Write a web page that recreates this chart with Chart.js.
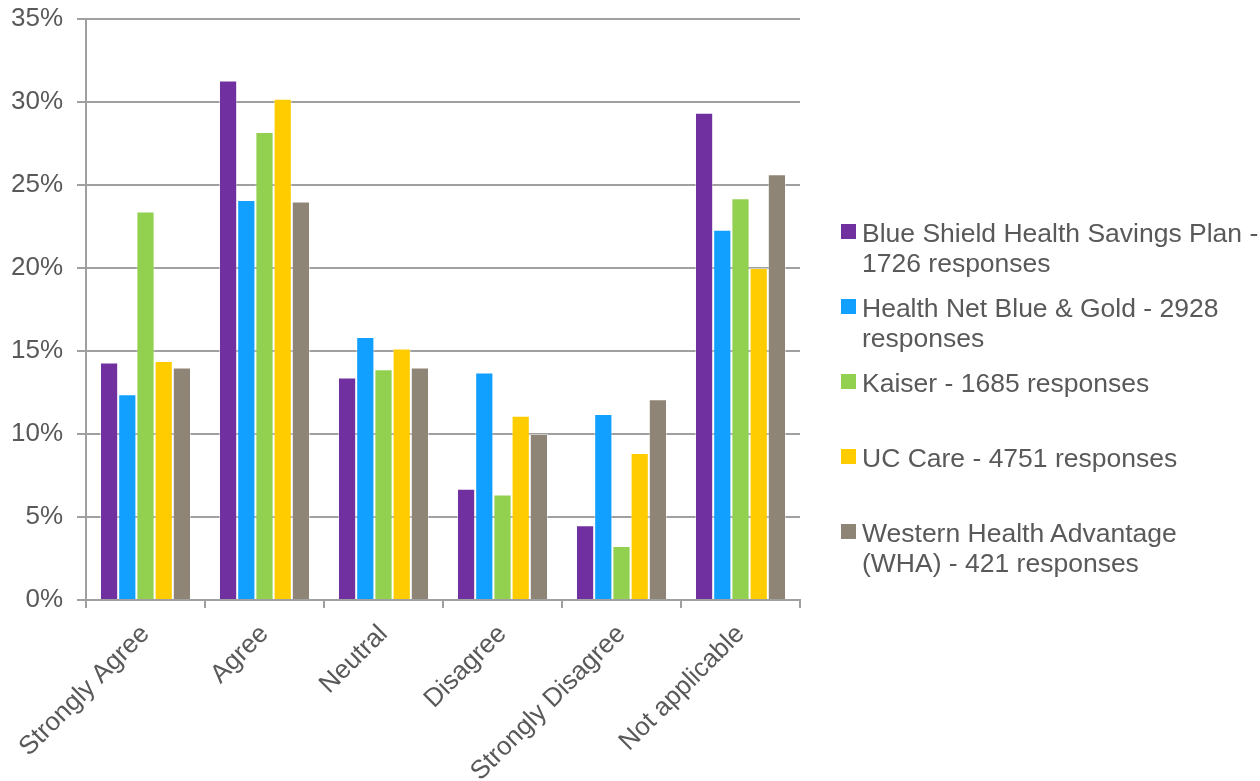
<!DOCTYPE html>
<html>
<head>
<meta charset="utf-8">
<script src="https://cdn.jsdelivr.net/npm/chart.js@4/dist/chart.umd.min.js"></script>
<style>
    html, body { margin: 0; padding: 0; background: #ffffff; }
    #wrap { position: relative; width: 1260px; height: 781px; }
    #grafica { position: absolute; left: 0; top: 0; }
    #leyenda {
        position: absolute; left: 841px; top: 218px;
        font-family: "Liberation Sans", Arial, sans-serif;
        font-size: 26.5px; line-height: 30px; color: #595959;
    }
    .item { position: relative; height: 75px; padding-left: 21px; }
    .caja { position: absolute; left: 0; top: 6px; width: 15px; height: 15px; }
</style>
</head>
<body>
<div id="wrap">
    <canvas id="grafica" width="1260" height="781"></canvas>
    <div id="leyenda"></div>
</div>
<script>
const categorias = ['Strongly Agree', 'Agree', 'Neutral', 'Disagree', 'Strongly Disagree', 'Not applicable'];
const planes = [
    'Blue Shield Health Savings Plan - 1726 responses',
    'Health Net Blue & Gold - 2928 responses',
    'Kaiser - 1685 responses',
    'UC Care - 4751 responses',
    'Western Health Advantage (WHA) - 421 responses'
];
// lineas de la leyenda tal como aparecen en la imagen
const lineasLeyenda = [
    ['Blue Shield Health Savings Plan -', '1726 responses'],
    ['Health Net Blue & Gold - 2928', 'responses'],
    ['Kaiser - 1685 responses'],
    ['UC Care - 4751 responses'],
    ['Western Health Advantage', '(WHA) - 421 responses']
];
const blueShield = [14.3, 31.3, 13.4, 6.7, 4.5, 29.35];
const healthNet = [12.4, 24.1, 15.85, 13.7, 11.2, 22.3];
const kaiser = [23.4, 28.2, 13.9, 6.35, 3.25, 24.2];
const ucCare = [14.4, 30.2, 15.15, 11.1, 8.85, 20.0];
const wha = [14.0, 24.0, 14.0, 10.0, 12.1, 25.65];
const colores = ['#7030A0', '#11A0FF', '#92D050', '#FFCC00', '#8F8577'];
const ticksY = [0, 5, 10, 15, 20, 25, 30, 35];

document.addEventListener('DOMContentLoaded', function () {
    const ctx = document.getElementById('grafica').getContext('2d');
    const series = [blueShield, healthNet, kaiser, ucCare, wha];
    const fuente = { family: '"Liberation Sans", Arial, sans-serif', size: 26 };
    const gris = '#A0A0A0';

    new Chart(ctx, {
        type: 'bar',
        data: {
            labels: categorias,
            datasets: series.map((datos, i) => ({
                label: planes[i],
                data: datos,
                backgroundColor: colores[i],
                borderColor: 'rgba(255,255,255,0.45)',
                borderWidth: 1,
                categoryPercentage: 0.765,
                barPercentage: 1.0
            }))
        },
        options: {
            responsive: false,
            animation: false,
            layout: { padding: { left: 0, right: 460, top: 19, bottom: 0 } },
            plugins: {
                legend: { display: false },
                tooltip: { enabled: false }
            },
            scales: {
                y: {
                    min: 0,
                    max: 35,
                    afterFit: function (scale) {
                        scale.width = 86;
                        scale.paddingTop = 0;
                        scale.paddingBottom = 0;
                    },
                    afterBuildTicks: function (scale) {
                        scale.ticks = ticksY.map(v => ({ value: v }));
                    },
                    ticks: {
                        color: '#595959',
                        font: fuente,
                        padding: 14,
                        callback: v => v + '%'
                    },
                    grid: { color: gris, lineWidth: 2, tickLength: 9 },
                    border: { color: gris, width: 2 }
                },
                x: {
                    afterFit: function (scale) {
                        scale.height = 181;
                        scale.paddingLeft = 0;
                        scale.paddingRight = 0;
                    },
                    ticks: {
                        color: '#595959',
                        font: fuente,
                        minRotation: 45,
                        maxRotation: 45,
                        padding: 11
                    },
                    grid: { color: gris, lineWidth: 2, drawOnChartArea: false, tickLength: 8 },
                    border: { color: gris, width: 2 }
                }
            }
        }
    });

    const leyenda = document.getElementById('leyenda');
    lineasLeyenda.forEach((lineas, i) => {
        const item = document.createElement('div');
        item.className = 'item';
        const caja = document.createElement('span');
        caja.className = 'caja';
        caja.style.background = colores[i];
        item.appendChild(caja);
        lineas.forEach(t => {
            const linea = document.createElement('div');
            linea.textContent = t;
            item.appendChild(linea);
        });
        leyenda.appendChild(item);
    });
});
</script>
</body>
</html>
